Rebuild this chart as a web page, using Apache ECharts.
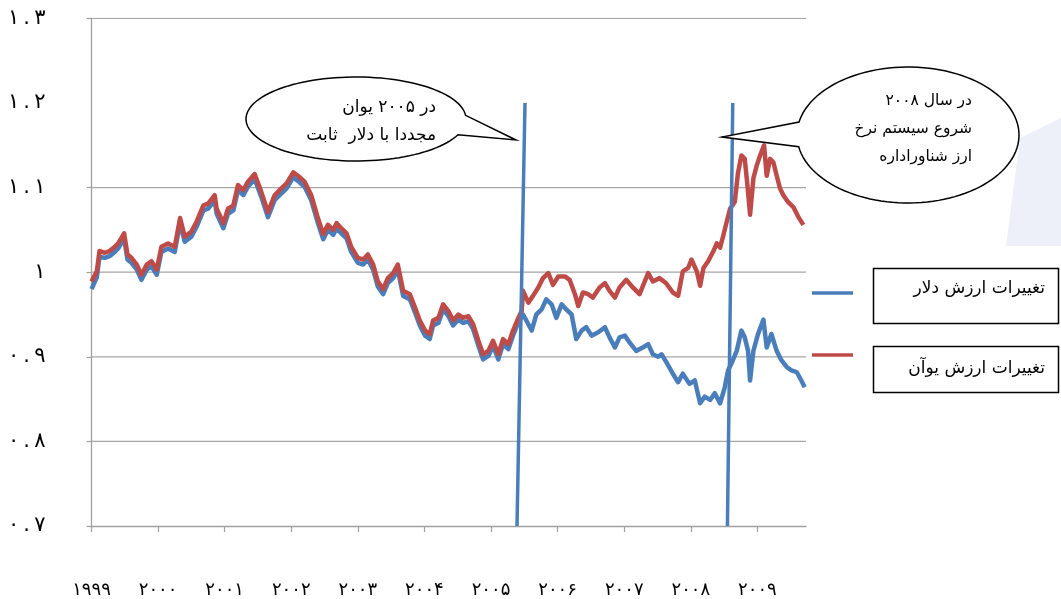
<!DOCTYPE html>
<html><head><meta charset="utf-8">
<script src="https://cdn.jsdelivr.net/npm/echarts@6/dist/echarts.min.js"></script>
<style>html,body{margin:0;padding:0;background:#fff}#c{width:1061px;height:599px}</style>
</head><body><div id="c"></div>
<script>
// ---------- data ----------
const seriesNames = ['تغییرات ارزش دلار', 'تغییرات ارزش یوآن'];
const xTicks = [1999, 2000, 2001, 2002, 2003, 2004, 2005, 2006, 2007, 2008, 2009];
const yTicks = [0.7, 0.8, 0.9, 1.0, 1.1, 1.2, 1.3];
const yTickMarks = [0.7, 0.8, 0.9, 1.0, 1.1, 1.3];
const gridLevels = [0.8, 0.9, 1.0, 1.1, 1.3];
const xMin = 1999, xMax = 2009.73;

const redYears = [1999.00,1999.08,1999.12,1999.20,1999.27,1999.35,1999.40,1999.49,1999.54,1999.60,1999.68,1999.75,1999.83,1999.90,1999.98,
2000.05,2000.15,2000.25,2000.33,2000.40,2000.50,2000.58,2000.68,2000.75,2000.85,2000.88,2000.98,
2001.05,2001.13,2001.20,2001.28,2001.35,2001.45,2001.55,2001.65,2001.75,2001.85,2001.93,
2002.03,2002.10,2002.20,2002.30,2002.40,2002.48,2002.55,2002.63,2002.68,2002.75,2002.83,2002.90,
2003.00,2003.08,2003.15,2003.23,2003.30,2003.38,2003.45,2003.53,2003.60,2003.68,2003.78,2003.86,2003.93,
2004.01,2004.08,2004.13,2004.21,2004.28,2004.36,2004.43,2004.51,2004.58,2004.66,2004.73,2004.81,2004.88,2004.96,
2005.03,2005.11,2005.18,2005.26,2005.33,2005.41,2005.46,2005.48,2005.56,2005.63,2005.71,2005.78,2005.86,2005.93,
2006.01,2006.11,2006.18,2006.26,2006.31,2006.38,2006.46,2006.53,2006.63,2006.71,2006.78,2006.86,2006.93,
2007.03,2007.13,2007.23,2007.36,2007.43,2007.53,2007.63,2007.73,2007.81,2007.88,2007.96,
2008.01,2008.09,2008.14,2008.19,2008.26,2008.34,2008.39,2008.44,2008.49,2008.54,2008.59,2008.66,2008.71,2008.76,2008.81,2008.85,2008.89,2008.94,2008.99,
2009.04,2009.10,2009.14,2009.19,2009.24,2009.29,2009.34,2009.39,2009.46,2009.54,2009.61,2009.69];
const redValues = [0.989,1.001,1.025,1.023,1.025,1.030,1.034,1.046,1.021,1.017,1.009,0.997,1.009,1.013,1.003,
1.030,1.034,1.030,1.064,1.042,1.048,1.060,1.079,1.081,1.091,1.075,1.058,
1.075,1.079,1.103,1.097,1.107,1.116,1.095,1.071,1.091,1.099,1.105,
1.118,1.114,1.107,1.091,1.064,1.045,1.056,1.050,1.058,1.052,1.046,1.030,
1.017,1.015,1.021,1.009,0.989,0.980,0.993,0.999,1.009,0.978,0.974,0.958,0.943,
0.931,0.927,0.943,0.946,0.962,0.954,0.943,0.950,0.946,0.948,0.939,0.919,0.903,0.907,
0.919,0.903,0.921,0.915,0.931,0.946,0.954,0.978,0.964,0.972,0.982,0.993,0.999,0.985,
0.995,0.995,0.991,0.974,0.960,0.976,0.974,0.970,0.982,0.987,0.978,0.970,0.982,
0.991,0.982,0.974,0.999,0.989,0.993,0.987,0.976,0.972,1.001,1.005,
1.015,1.001,0.984,1.005,1.013,1.025,1.034,1.029,1.044,1.060,1.075,1.083,1.118,1.138,1.134,1.103,1.068,1.111,1.126,
1.138,1.150,1.114,1.134,1.130,1.114,1.099,1.091,1.083,1.077,1.066,1.056];

const blueYears = [1999.00,1999.08,1999.12,1999.20,1999.27,1999.35,1999.40,1999.49,1999.54,1999.60,1999.68,1999.75,1999.83,1999.90,1999.98,
2000.05,2000.15,2000.25,2000.33,2000.40,2000.50,2000.58,2000.68,2000.75,2000.85,2000.88,2000.98,
2001.05,2001.13,2001.20,2001.28,2001.35,2001.45,2001.55,2001.65,2001.75,2001.85,2001.93,
2002.03,2002.10,2002.20,2002.30,2002.40,2002.48,2002.55,2002.63,2002.68,2002.75,2002.83,2002.90,
2003.00,2003.08,2003.15,2003.23,2003.30,2003.38,2003.45,2003.53,2003.60,2003.68,2003.78,2003.86,2003.93,
2004.01,2004.08,2004.13,2004.21,2004.28,2004.36,2004.43,2004.51,2004.58,2004.66,2004.73,2004.81,2004.88,2004.96,
2005.03,2005.11,2005.18,2005.26,2005.33,2005.41,2005.48,2005.53,2005.61,2005.68,2005.76,2005.83,2005.91,2005.98,
2006.06,2006.13,2006.21,2006.28,2006.36,2006.43,2006.51,2006.61,2006.71,2006.78,2006.86,2006.93,
2007.01,2007.08,2007.18,2007.28,2007.36,2007.43,2007.51,2007.56,2007.63,2007.73,2007.81,2007.88,2007.98,
2008.06,2008.14,2008.21,2008.29,2008.36,2008.44,2008.51,2008.56,2008.61,2008.69,2008.76,2008.81,2008.86,2008.89,2008.94,
2009.01,2009.09,2009.14,2009.21,2009.29,2009.36,2009.44,2009.51,2009.59,2009.66,2009.71];
const blueValues = [0.980,0.994,1.018,1.017,1.019,1.024,1.028,1.040,1.015,1.011,1.003,0.991,1.003,1.007,0.997,
1.024,1.028,1.024,1.058,1.036,1.042,1.054,1.073,1.075,1.085,1.069,1.052,
1.069,1.073,1.097,1.091,1.101,1.110,1.089,1.065,1.085,1.093,1.099,
1.112,1.108,1.101,1.085,1.058,1.039,1.050,1.044,1.052,1.046,1.040,1.024,
1.011,1.009,1.015,1.003,0.983,0.974,0.987,0.993,1.003,0.972,0.968,0.952,0.937,
0.925,0.921,0.937,0.940,0.956,0.948,0.937,0.944,0.940,0.942,0.933,0.913,0.897,0.901,
0.913,0.897,0.915,0.909,0.925,0.941,0.950,0.943,0.931,0.950,0.956,0.968,0.962,0.946,
0.962,0.956,0.950,0.921,0.931,0.935,0.925,0.929,0.935,0.923,0.911,0.923,
0.925,0.917,0.907,0.911,0.915,0.903,0.900,0.903,0.894,0.880,0.870,0.880,0.868,
0.872,0.845,0.853,0.849,0.857,0.845,0.864,0.884,0.892,0.907,0.931,0.923,0.907,0.872,0.907,
0.927,0.944,0.911,0.927,0.907,0.896,0.888,0.884,0.882,0.872,0.864];

// annotation lines (value space)
const pegLineX = [2005.39, 2005.51];
const floatLineX = [2008.55, 2008.63];
const markerLineY = [0.7, 1.2];

const note2005 = ['در ۲۰۰۵ یوان', 'مجددا با دلار  ثابت'];
const note2008 = ['در سال ۲۰۰۸', 'شروع سیستم نرخ', 'ارز شناوراداره'];

// ---------- helpers ----------
const FA = '۰۱۲۳۴۵۶۷۸۹';
const toFa = s => String(s).replace(/\d/g, d => FA[+d]);
const zip = (xs, ys) => xs.map((x, i) => [x, ys[i]]);
const FONT = '"DejaVu Sans", sans-serif';

function bubble(cx, cy, rx, ry, a0, a1, tip) {
  const pts = [];
  for (let a = a0; a <= a1 + 0.001; a += 3) {
    const r = a * Math.PI / 180;
    pts.push([cx + rx * Math.cos(r), cy + ry * Math.sin(r)]);
  }
  pts.push(tip);
  return pts;
}

const BLUE = '#4a7ebb', RED = '#be4b48', GRID = '#a6a6a6';

const gridSeries = gridLevels.map(v => ({
  type: 'line', name: 'grid' + v, data: [[xMin, v], [xMax, v]], showSymbol: false, silent: true, z: 1,
  lineStyle: {color: GRID, width: 1.2}
}));

const chart = echarts.init(document.getElementById('c'), null, {renderer: 'canvas'});
chart.setOption({
  animation: false,
  backgroundColor: '#fff',
  grid: {left: 91.5, right: 255, top: 18.4, bottom: 69, show: false},
  xAxis: {
    type: 'value', min: xMin, max: xMax, interval: 1,
    axisLine: {show: true, lineStyle: {color: '#a0a0a0', width: 1.3}},
    axisTick: {show: true, length: 6, customValues: xTicks, lineStyle: {color: '#a0a0a0', width: 1.2}},
    axisLabel: {customValues: xTicks, formatter: v => toFa(v), margin: 55, fontSize: 18, color: '#000', fontFamily: FONT},
    splitLine: {show: false}, minorSplitLine: {show: false}
  },
  yAxis: {
    type: 'value', min: 0.7, max: 1.3, interval: 0.1,
    axisLine: {show: true, lineStyle: {color: '#a0a0a0', width: 1.3}},
    axisTick: {show: true, length: 5, customValues: yTickMarks, lineStyle: {color: '#a0a0a0', width: 1.2}},
    axisLabel: {customValues: yTicks, margin: 46, fontSize: 21, color: '#000', fontFamily: FONT,
      formatter: v => toFa(Math.abs(v - 1) < 1e-9 ? '1' : v.toFixed(1)).replace('.', '\u2009.\u2009')},
    splitLine: {show: false}, minorSplitLine: {show: false}
  },
  series: gridSeries.concat([
    {type: 'line', name: seriesNames[0], data: zip(blueYears, blueValues), showSymbol: false, z: 3,
     lineStyle: {color: BLUE, width: 4.5, join: 'round'}, itemStyle: {color: BLUE}},
    {type: 'line', name: seriesNames[1], data: zip(redYears, redValues), showSymbol: false, z: 4,
     lineStyle: {color: RED, width: 4.5, join: 'round'}, itemStyle: {color: RED}},
    {type: 'line', name: 'peg2005', data: zip(pegLineX, markerLineY), showSymbol: false, z: 5,
     lineStyle: {color: BLUE, width: 3.5}},
    {type: 'line', name: 'float2008', data: zip(floatLineX, markerLineY), showSymbol: false, z: 5,
     lineStyle: {color: BLUE, width: 3.5}}
  ]),
  graphic: [
    {type: 'polygon', z: 0, silent: true,
     shape: {points: [[1061, 118], [1020, 138], [1006, 246], [1061, 246]]},
     style: {fill: '#eef0f9', stroke: null}},
    {type: 'polygon', z: 100, shape: {points: bubble(356, 119, 110, 42, 22, 356, [516, 140])},
     style: {fill: '#fff', stroke: '#000', lineWidth: 1.5}},
    {type: 'text', z: 101, style: {text: note2005[0], x: 436, y: 108, textAlign: 'right', textVerticalAlign: 'middle', font: '17px ' + FONT, fill: '#000'}},
    {type: 'text', z: 101, style: {text: note2005[1], x: 436, y: 136, textAlign: 'right', textVerticalAlign: 'middle', font: '17px ' + FONT, fill: '#000'}},
    {type: 'polygon', z: 100, shape: {points: bubble(908, 135, 111, 68, 191, 530, [722, 137])},
     style: {fill: '#fff', stroke: '#000', lineWidth: 1.5}},
    {type: 'text', z: 101, style: {text: note2008[0], x: 972, y: 101, textAlign: 'right', textVerticalAlign: 'middle', font: '15.5px ' + FONT, fill: '#000'}},
    {type: 'text', z: 101, style: {text: note2008[1], x: 972, y: 129, textAlign: 'right', textVerticalAlign: 'middle', font: '15.5px ' + FONT, fill: '#000'}},
    {type: 'text', z: 101, style: {text: note2008[2], x: 972, y: 157, textAlign: 'right', textVerticalAlign: 'middle', font: '15.5px ' + FONT, fill: '#000'}},
    // legend
    {type: 'line', z: 100, shape: {x1: 812, y1: 293, x2: 853, y2: 293}, style: {stroke: BLUE, lineWidth: 3.5}},
    {type: 'line', z: 100, shape: {x1: 812, y1: 355, x2: 853, y2: 355}, style: {stroke: RED, lineWidth: 3.5}},
    {type: 'rect', z: 100, shape: {x: 873.5, y: 268.5, width: 185, height: 55}, style: {fill: '#fff', stroke: '#000', lineWidth: 1.5}},
    {type: 'rect', z: 100, shape: {x: 873.5, y: 346.5, width: 185, height: 46}, style: {fill: '#fff', stroke: '#000', lineWidth: 1.5}},
    {type: 'text', z: 101, style: {text: seriesNames[0], x: 1045, y: 289, textAlign: 'right', textVerticalAlign: 'middle', font: '17px ' + FONT, fill: '#000'}},
    {type: 'text', z: 101, style: {text: seriesNames[1], x: 1045, y: 369, textAlign: 'right', textVerticalAlign: 'middle', font: '17px ' + FONT, fill: '#000'}}
  ]
});
</script>
</body></html>
